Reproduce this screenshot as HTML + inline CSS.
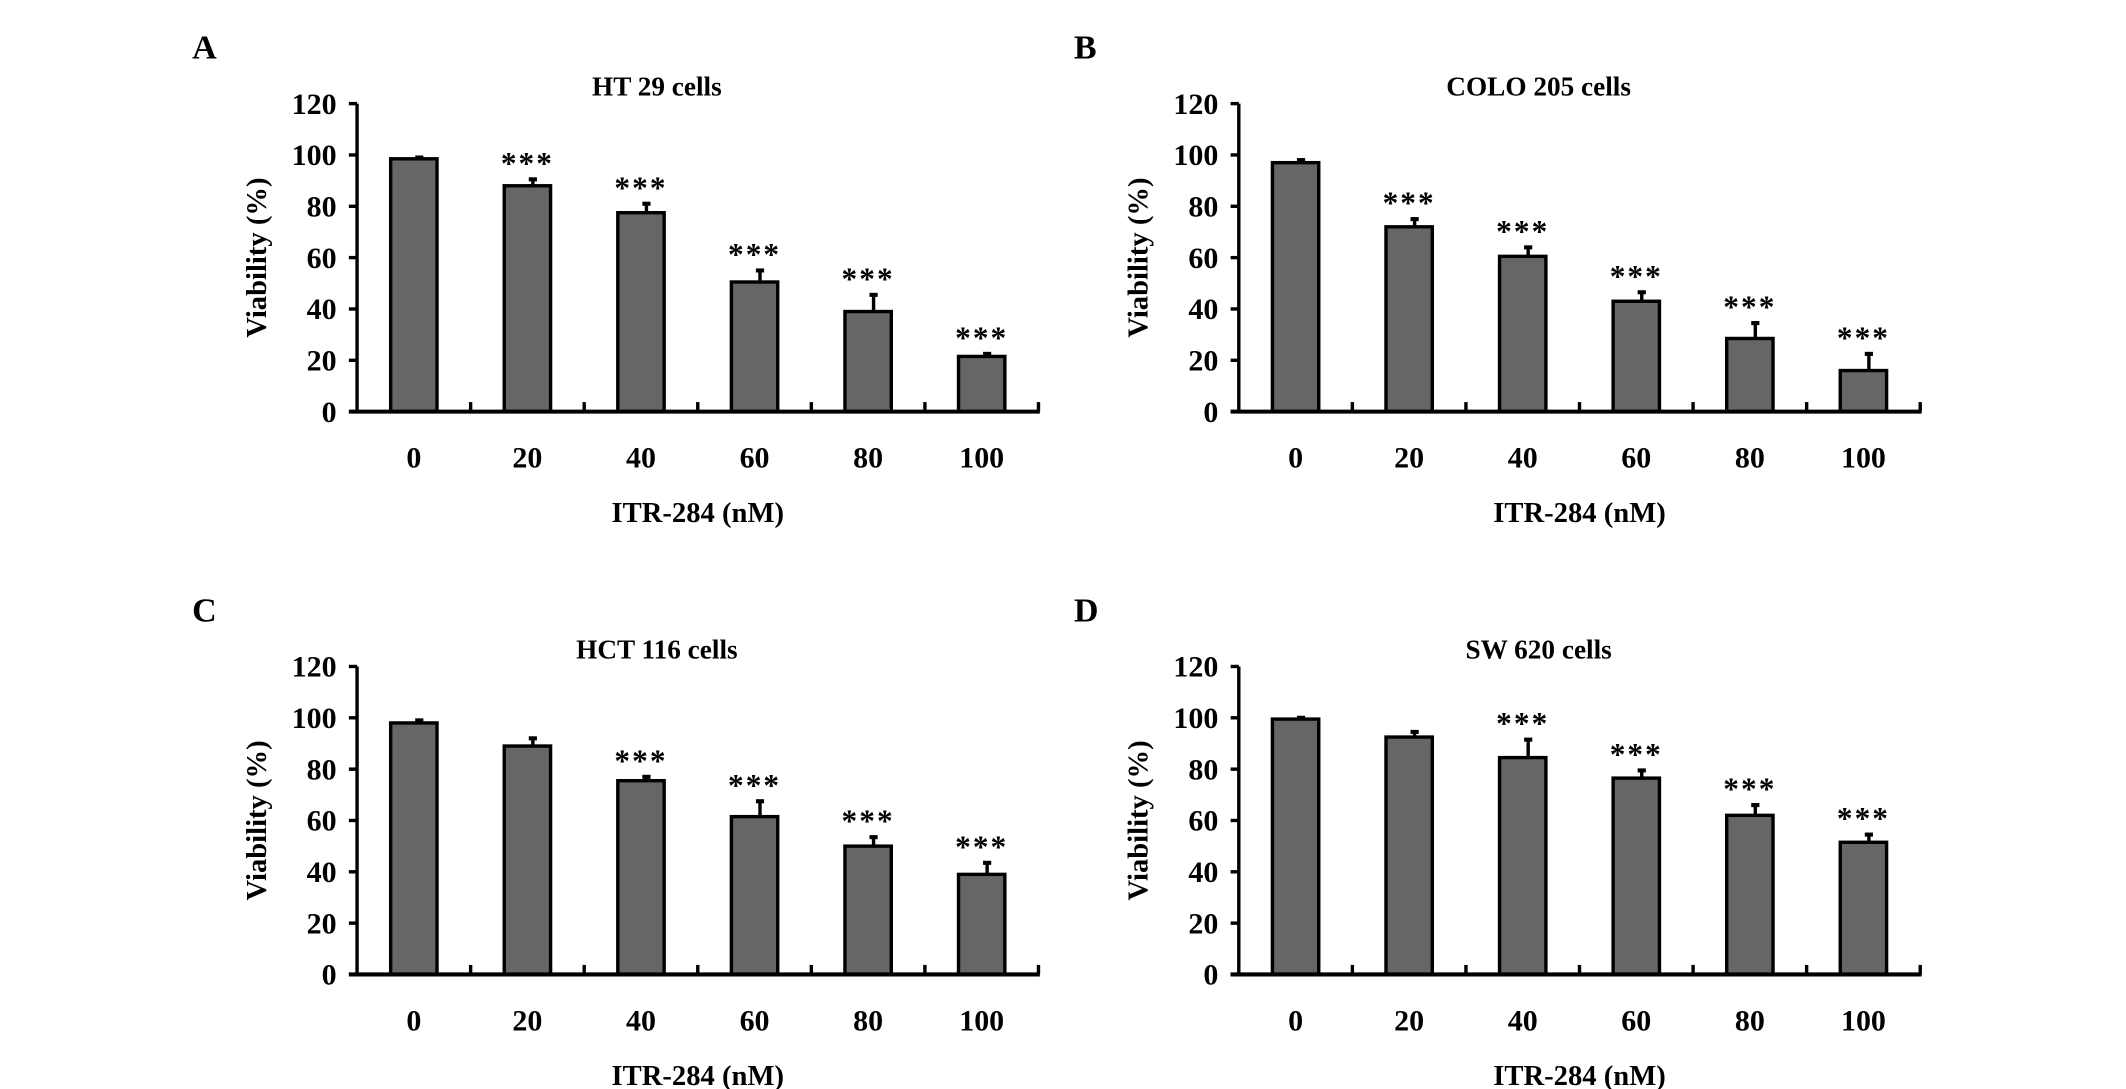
<!DOCTYPE html>
<html><head><meta charset="utf-8"><style>
html,body{margin:0;padding:0;background:#fff;}
svg{display:block;}
text{font-family:"Liberation Serif",serif;font-weight:bold;fill:#000;}
</style></head>
<body>
<svg id="fig" width="2126" height="1089" viewBox="0 0 1560 799" xmlns="http://www.w3.org/2000/svg"></svg>
<script>
const categories = ["0","20","40","60","80","100"];
const yTicks = [0,20,40,60,80,100,120];
const titles = ["HT 29 cells","COLO 205 cells","HCT 116 cells","SW 620 cells"];
const letters = ["A","B","C","D"];
const valuesA = [98.5,88,77.5,50.5,39,21.5];
const errorsA = [0.5,2.5,3.5,4.5,6.5,1];
const starsA = [0,1,1,1,1,1];
const valuesB = [97,72,60.5,43,28.5,16];
const errorsB = [1,3,3.5,3.5,6,6.5];
const starsB = [0,1,1,1,1,1];
const valuesC = [98,89,75.5,61.5,50,39];
const errorsC = [1,3,1.5,6,3.5,4.5];
const starsC = [0,0,1,1,1,1];
const valuesD = [99.5,92.5,84.5,76.5,62,51.5];
const errorsD = [0.5,2,7,3,4,3];
const starsD = [0,0,1,1,1,1];

const svg = document.getElementById('fig');
const NS = "http://www.w3.org/2000/svg";
function mk(tag, attrs, parent){
  const e = document.createElementNS(NS, tag);
  for (const k in attrs) e.setAttribute(k, attrs[k]);
  (parent||svg).appendChild(e);
  return e;
}
const panels = [
  {ox:0, oy:0, v:valuesA, e:errorsA, s:starsA},
  {ox:647, oy:0, v:valuesB, e:errorsB, s:starsB},
  {ox:0, oy:413, v:valuesC, e:errorsC, s:starsC},
  {ox:647, oy:413, v:valuesD, e:errorsD, s:starsD}
];
panels.forEach((p, pi) => {
  const g = mk('g', {});
  
  
  const x0 = 262 + p.ox, x1 = 762 + p.ox, yTop = 76 + p.oy, y0 = 302 + p.oy;
  const yS = v => y0 - (v/120)*(y0 - yTop);
  const band = (x1 - x0)/categories.length;
  const xC = i => x0 + band*(i + 0.5);
  const L = mk('text', {x:141+p.ox, y:43+p.oy, 'font-size':25}, g);
  L.textContent = letters[pi];
  
  
  const T = mk('text', {x:(x0+x1)/2 - 30, y:70+p.oy, 'font-size':20, 'text-anchor':'middle'}, g);
  T.textContent = titles[pi];
  
  
  const yt = mk('text', {transform:`translate(${195+p.ox},${189+p.oy}) rotate(-90)`, 'font-size':21, 'text-anchor':'middle'}, g);
  yt.textContent = "Viability (%)";
  
  
  const xt = mk('text', {x:(x0+x1)/2, y:383+p.oy, 'font-size':21, 'text-anchor':'middle'}, g);
  xt.textContent = "ITR-284 (nM)";
  
  
  yTicks.forEach(t => {
    const y = yS(t);
    mk('line', {x1:x0-6, x2:x0, y1:y, y2:y, stroke:'#000', 'stroke-width':2.5}, g);
    const tl = mk('text', {x:x0-15, y:y+7.5, 'font-size':22, 'text-anchor':'end'}, g);
    tl.textContent = t;
    
    
  });
  p.v.forEach((v, i) => {
    const cx = xC(i), bw = 34;
    const top = yS(v), et = yS(v + p.e[i]);
    const eb = mk('line', {x1:cx+4, x2:cx+4, y1:top, y2:et, stroke:'#000', 'stroke-width':2.5}, g);
    
    
    mk('line', {x1:cx+1, x2:cx+7, y1:et, y2:et, stroke:'#000', 'stroke-width':3}, g);
    const r = mk('rect', {x:cx-bw/2, y:top, width:bw, height:y0-top, fill:'#666', stroke:'#000', 'stroke-width':2.5}, g);
    
    
    if (p.s[i]) {
      const st = mk('text', {x:cx, y:et-4, 'font-size':23, 'text-anchor':'middle', 'letter-spacing':'1.5'}, g);
      st.textContent = "***";
      
      
    }
    const xl = mk('text', {x:cx, y:343+p.oy, 'font-size':22, 'text-anchor':'middle'}, g);
    xl.textContent = categories[i];
    
    
  });
  const ya = mk('line', {x1:x0, x2:x0, y1:yTop, y2:y0+1, stroke:'#000', 'stroke-width':2.5}, g);
  
  
  const xa = mk('line', {x1:x0-6, x2:x1+1, y1:y0, y2:y0, stroke:'#000', 'stroke-width':3}, g);
  
  
  for (let k = 1; k <= categories.length; k++) {
    const x = x0 + band*k;
    mk('line', {x1:x, x2:x, y1:y0, y2:y0-7, stroke:'#000', 'stroke-width':2.5}, g);
  }
});
</script>
</body></html>
